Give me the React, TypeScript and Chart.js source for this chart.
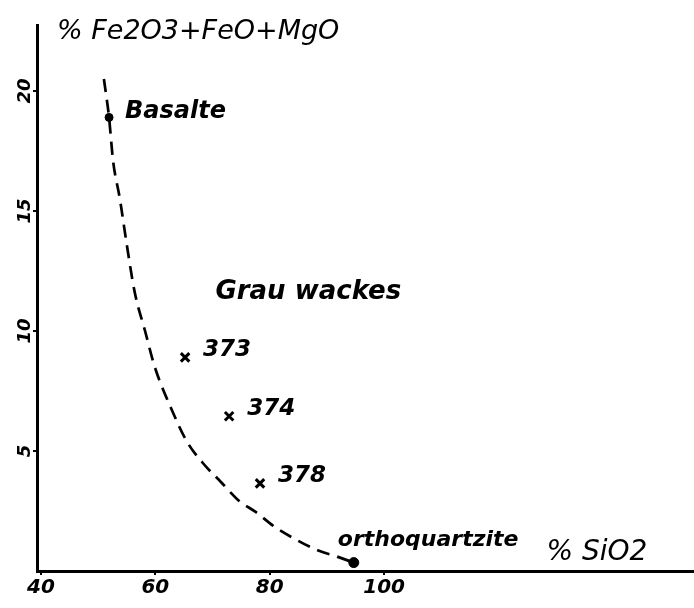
import React, { useEffect, useRef } from 'react';
import { Chart, registerables } from 'chart.js';

Chart.register(...registerables);

// ---- data ----
const curveSiO2 = [51.0, 51.9, 52.6, 53.8, 55.0, 56.4, 58.2, 59.9, 62.9, 65.5, 68.3, 71.5, 74.5, 77.6, 80.8, 83.9, 88.5, 91.8];
const curveFe = [20.5, 18.9, 17.1, 15.5, 13.6, 11.6, 10.0, 8.5, 6.7, 5.4, 4.5, 3.7, 2.95, 2.45, 1.85, 1.4, 0.85, 0.6];
const tailSiO2 = [91.8, 94.7];
const tailFe = [0.6, 0.35];
const rockNames = ['Basalte', 'orthoquartzite'];
const rockSiO2 = [51.9, 94.7];
const rockFe = [18.9, 0.35];
const sampleNames = ['373', '374', '378'];
const sampleSiO2 = [65.2, 72.9, 78.3];
const sampleFe = [8.9, 6.45, 3.65];
const xTickValues = [40, 60, 80, 100];
const yTickValues = [5, 10, 15, 20];
const xTitle = '% SiO2';
const yTitle = '% Fe2O3+FeO+MgO';
const fieldLabel = 'Grau wackes';

// annotation anchors (data coordinates) for free-floating texts
const fieldLabelAt = { x: 70.5, y: 11.6 };
const xTitleAt = { x: 128.4, y: 0.75 };
const yTitleAt = { x: 42.8, y: 22.45 };

const FONT = '"DejaVu Sans", "Liberation Sans", sans-serif';

const textPlugin = {
  id: 'handLabels',
  afterDatasetsDraw(chart: any) {
    const { ctx } = chart;
    const xs = chart.scales.x;
    const ys = chart.scales.y;
    const px = (v: number) => xs.getPixelForValue(v);
    const py = (v: number) => ys.getPixelForValue(v);
    ctx.save();
    ctx.fillStyle = '#000';
    ctx.textBaseline = 'middle';
    ctx.textAlign = 'left';

    // rock labels
    ctx.font = `italic bold 24px ${FONT}`;
    ctx.fillText(rockNames[0], px(rockSiO2[0]) + 16, py(rockFe[0]) - 6);
    ctx.font = `italic bold 22px ${FONT}`;
    ctx.fillText(rockNames[1], px(rockSiO2[1]) - 16, py(rockFe[1]) - 22);

    // sample labels
    ctx.font = `italic 600 23px ${FONT}`;
    sampleNames.forEach((n, i) => {
      ctx.fillText(n, px(sampleSiO2[i]) + 18, py(sampleFe[i]) - 7);
    });

    // field label
    ctx.font = `italic bold 26px ${FONT}`;
    ctx.fillText(fieldLabel, px(fieldLabelAt.x), py(fieldLabelAt.y));

    // axis titles
    ctx.font = `italic 28px ${FONT}`;
    ctx.fillText(xTitle, px(xTitleAt.x), py(xTitleAt.y));
    ctx.font = `italic 27px ${FONT}`;
    ctx.fillText(yTitle, px(yTitleAt.x), py(yTitleAt.y));
    ctx.restore();
  },
};

export default function App() {
  const canvasRef = useRef<HTMLCanvasElement | null>(null);

  useEffect(() => {
    const canvas = canvasRef.current;
    if (!canvas) return;
    const toPts = (xs: number[], ys: number[]) => xs.map((x, i) => ({ x, y: ys[i] }));

    const chart = new Chart(canvas, {
      type: 'scatter',
      data: {
        datasets: [
          {
            type: 'line',
            label: 'trend',
            data: toPts(curveSiO2, curveFe),
            borderColor: '#000',
            borderWidth: 2.7,
            borderDash: [13, 8],
            cubicInterpolationMode: 'monotone',
            pointRadius: 0,
            fill: false,
          } as any,
          {
            type: 'line',
            label: 'tail',
            data: toPts(tailSiO2, tailFe),
            borderColor: '#000',
            borderWidth: 3,
            pointRadius: 0,
            fill: false,
          } as any,
          {
            label: 'rocks',
            data: toPts(rockSiO2, rockFe),
            pointStyle: 'circle',
            pointRadius: [4, 5],
            backgroundColor: '#000',
            borderColor: '#000',
            borderWidth: 1,
          } as any,
          {
            label: 'greywackes',
            data: toPts(sampleSiO2, sampleFe),
            pointStyle: 'crossRot',
            pointRadius: 6,
            borderColor: '#000',
            borderWidth: 3,
          } as any,
        ],
      },
      options: {
        responsive: false,
        maintainAspectRatio: false,
        animation: false,
        devicePixelRatio: 1,
        layout: { autoPadding: false, padding: { top: 25, right: 0, left: 0, bottom: 0 } },
        plugins: {
          legend: { display: false },
          tooltip: { enabled: false },
          title: { display: false },
        },
        scales: {
          x: {
            type: 'linear',
            position: 'bottom',
            min: 39.3,
            max: 154.2,
            afterBuildTicks: (s: any) => {
              s.ticks = xTickValues.map((v) => ({ value: v }));
            },
            afterFit: (s: any) => {
              s.height = 37;
            },
            ticks: {
              color: '#000',
              padding: 1,
              maxRotation: 0,
              font: { family: FONT, size: 20, style: 'italic', weight: 'bold' },
              callback: (v: any) => String(v),
            },
            grid: {
              display: true,
              drawOnChartArea: false,
              drawTicks: true,
              tickLength: 4,
              color: '#000',
              lineWidth: 2,
            },
            border: { display: true, color: '#000', width: 3 },
          },
          y: {
            type: 'linear',
            position: 'left',
            min: 0,
            max: 22.75,
            afterBuildTicks: (s: any) => {
              s.ticks = yTickValues.map((v) => ({ value: v }));
            },
            afterFit: (s: any) => {
              s.width = 37;
            },
            ticks: {
              color: '#000',
              padding: -5,
              minRotation: 90,
              maxRotation: 90,
              crossAlign: 'center',
              font: { family: FONT, size: 18, style: 'italic', weight: 'bold' },
              callback: (v: any) => String(v),
            },
            grid: {
              display: true,
              drawOnChartArea: false,
              drawTicks: true,
              tickLength: 4,
              color: '#000',
              lineWidth: 2,
            },
            border: { display: true, color: '#000', width: 3 },
          },
        },
      } as any,
      plugins: [textPlugin],
    });

    return () => chart.destroy();
  }, []);

  return (
    <div style={{ position: 'fixed', left: 0, top: 0, width: 694, height: 608, background: '#fff' }}>
      <canvas ref={canvasRef} width={694} height={608} style={{ display: 'block' }} />
    </div>
  );
}
